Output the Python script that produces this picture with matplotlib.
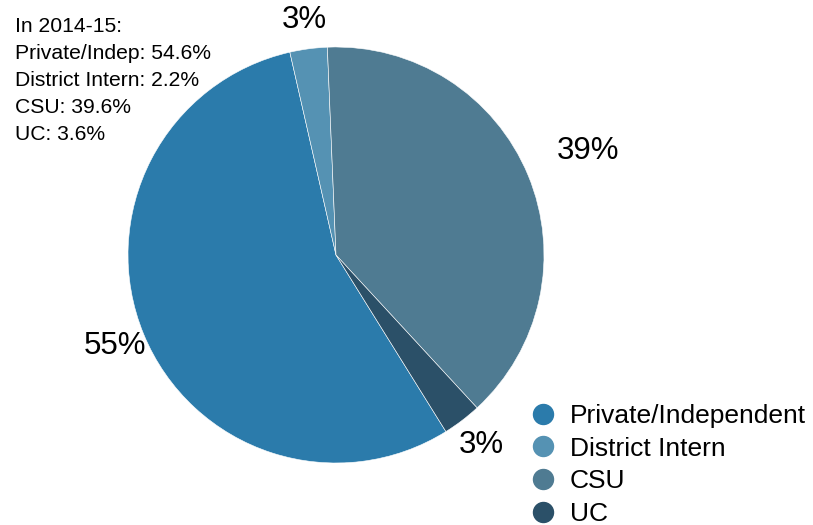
import numpy as np
import matplotlib
matplotlib.use("Agg")
import matplotlib.pyplot as plt
from matplotlib.lines import Line2D

plt.rcParams['font.family'] = ['Liberation Sans', 'DejaVu Sans']

# slice data
categories = ["Private/Independent", "District Intern", "CSU", "UC"]
shares = [55.3, 2.9, 38.8, 3.0]
colors = ["#2b7bab", "#5592b3", "#4f7b92", "#2b5068"]
note_lines = ["In 2014-15:", "Private/Indep: 54.6%", "District Intern: 2.2%",
              "CSU: 39.6%", "UC: 3.6%"]
label_dist = [1.15, 1.14, 1.31, 1.15]

fig = plt.figure(figsize=(8.13, 5.25), dpi=100)
W, H = 813, 525
cx, cy, r = 336, 255, 208
ax = fig.add_axes([(cx - r) / W, (H - cy - r) / H, 2 * r / W, 2 * r / H])

wedges, _ = ax.pie(shares, colors=colors, startangle=-58.1, counterclock=False,
                   radius=1, wedgeprops=dict(edgecolor="white", linewidth=0.4))
ax.set_xlim(-1, 1)
ax.set_ylim(-1, 1)
ax.set_aspect("equal")
ax.axis("off")

# percent labels outside the slices
for w, v, d in zip(wedges, shares, label_dist):
    mid = np.deg2rad((w.theta1 + w.theta2) / 2)
    ax.text(d * np.cos(mid), d * np.sin(mid), "%d%%" % round(v),
            ha="center", va="center", fontsize=22.5, color="black")

fig.text(15 / W, 1 - 17 / H, "\n".join(note_lines), ha="left", va="top",
         fontsize=15.2, linespacing=1.53)

handles = [Line2D([], [], marker="o", linestyle="none", markersize=14.4,
                  markerfacecolor=c, markeredgecolor=c) for c in colors]
fig.legend(handles, categories, loc="upper left",
           bbox_to_anchor=(530 / W, 1 - 404 / H), frameon=False,
           fontsize=19, handlelength=1.0, handletextpad=0.5,
           labelspacing=0.33, borderpad=0, borderaxespad=0)

fig.savefig("out.png", dpi=100)
